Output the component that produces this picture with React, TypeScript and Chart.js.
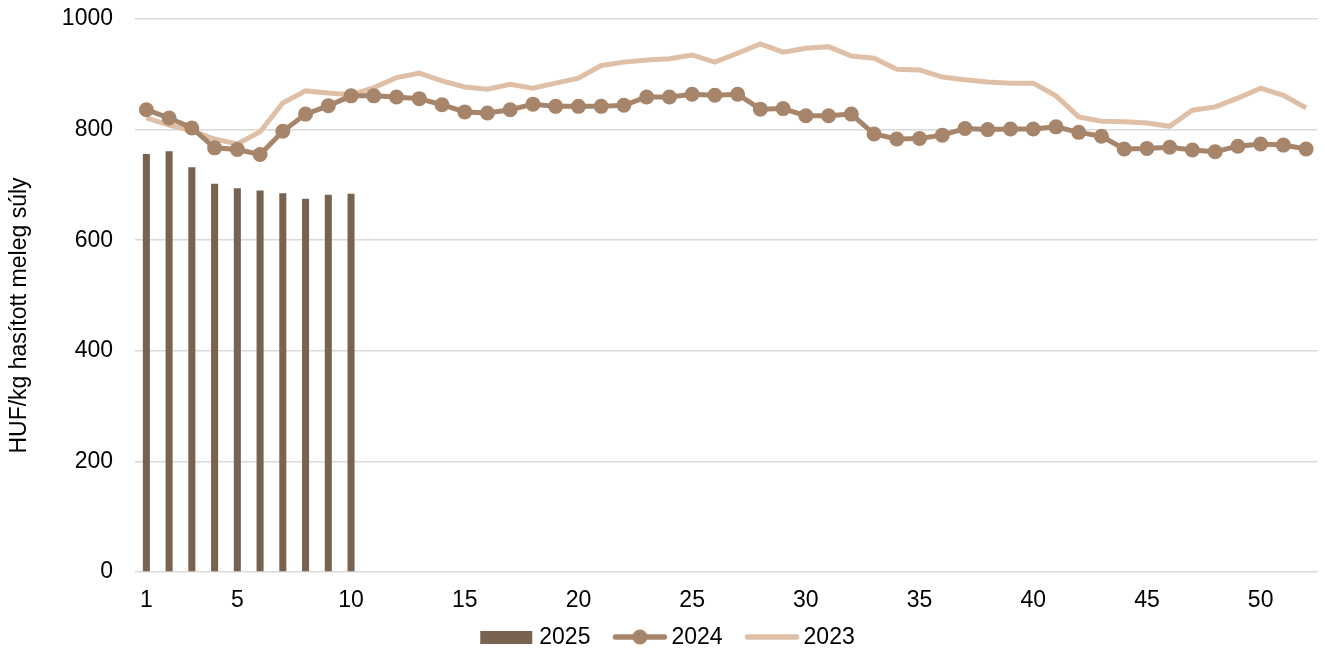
import React, { useEffect, useRef } from "react";
import { Chart, registerables } from "chart.js";

Chart.register(...registerables);

const weeks: string[] = Array.from({ length: 52 }, (_, i) => String(i + 1));

const values2025: number[] = [756, 761, 732, 702, 694, 690, 685, 675, 682, 684];

const values2024: number[] = [
  836, 821, 803, 767, 764, 755, 797, 828, 843, 861,
  861, 859, 856, 845, 832, 830, 836, 846, 842, 842,
  842, 844, 859, 859, 864, 862, 864, 837, 838, 825,
  825, 828, 792, 783, 784, 790, 802, 800, 801, 801,
  805, 795, 788, 765, 766, 768, 763, 760, 770, 774,
  772, 765,
];

const values2023: number[] = [
  821, 808, 798, 783, 774, 796, 848, 870, 866, 863,
  876, 894, 902, 888, 877, 873, 882, 875, 884, 893,
  916, 922, 926, 928, 935, 922, 938, 955, 940, 947,
  950, 933, 929, 909, 908, 895, 890, 886, 884, 884,
  861, 823, 815, 814, 812, 806, 835, 841, 857, 875,
  862, 839,
];

const yTicks: number[] = [0, 200, 400, 600, 800, 1000];
const xShownLabels: string[] = ["1", "5", "10", "15", "20", "25", "30", "35", "40", "45", "50"];
const yTitle = "HUF/kg hasított meleg súly";

const C2025 = "#776350";
const C2024 = "#A6856A";
const C2023 = "#DFC0A7";
const FONT = "'Liberation Sans', Arial, sans-serif";
const FS = 23;

const legendPlugin = {
  id: "customLegend",
  afterDraw(chart: any) {
    const ctx = chart.ctx as CanvasRenderingContext2D;
    const items = [
      { label: "2025", kind: "bar", color: C2025 },
      { label: "2024", kind: "linepoint", color: C2024 },
      { label: "2023", kind: "line", color: C2023 },
    ];
    ctx.save();
    ctx.font = `${FS}px ${FONT}`;

    // y-axis title
    ctx.fillStyle = "#000";
    ctx.textAlign = "center";
    ctx.textBaseline = "middle";
    ctx.translate(20, (chart.chartArea.top + chart.chartArea.bottom) / 2 + 20);
    ctx.rotate(-Math.PI / 2);
    ctx.fillText(yTitle, 0, 0);
    ctx.setTransform(1, 0, 0, 1, 0, 0);

    const symW = 55;
    const textGap = 4;
    const itemGap = 22;
    const widths = items.map((it) => symW + textGap + ctx.measureText(it.label).width);
    const total = widths.reduce((a, b) => a + b, 0) + itemGap * (items.length - 1);
    let x = chart.width / 2 + 5 - total / 2;
    const y = 637;
    items.forEach((it, i) => {
      if (it.kind === "bar") {
        ctx.fillStyle = it.color;
        ctx.fillRect(x, y - 6, symW - 3, 13);
      } else {
        ctx.strokeStyle = it.color;
        ctx.lineWidth = 5.5;
        ctx.lineCap = "round";
        ctx.beginPath();
        ctx.moveTo(x + 3, y);
        ctx.lineTo(x + symW - 3, y);
        ctx.stroke();
        if (it.kind === "linepoint") {
          ctx.fillStyle = it.color;
          ctx.beginPath();
          ctx.arc(x + symW / 2, y, 7.5, 0, Math.PI * 2);
          ctx.fill();
        }
      }
      ctx.fillStyle = "#000";
      ctx.textBaseline = "middle";
      ctx.textAlign = "left";
      ctx.fillText(it.label, x + symW + textGap, y + 1);
      x += widths[i] + itemGap;
    });
    ctx.restore();
  },
};

export default function App() {
  const ref = useRef<HTMLCanvasElement | null>(null);

  useEffect(() => {
    if (!ref.current) return;
    const chart = new Chart(ref.current, {
      type: "bar",
      data: {
        labels: weeks,
        datasets: [
          {
            type: "bar",
            label: "2025",
            data: values2025,
            backgroundColor: C2025,
            barPercentage: 0.31,
            categoryPercentage: 1,
            order: 3,
          },
          {
            type: "line",
            label: "2024",
            data: values2024,
            borderColor: C2024,
            backgroundColor: C2024,
            borderWidth: 5,
            pointRadius: 7.5,
            pointBorderWidth: 0,
            pointBackgroundColor: C2024,
            tension: 0,
            order: 1,
          },
          {
            type: "line",
            label: "2023",
            data: values2023,
            borderColor: C2023,
            backgroundColor: C2023,
            borderWidth: 5,
            pointRadius: 0,
            tension: 0,
            order: 2,
          },
        ] as any,
      },
      options: {
        animation: false,
        responsive: true,
        maintainAspectRatio: false,
        layout: { padding: { top: 19, right: 5, bottom: 40, left: 0 } },
        plugins: {
          legend: { display: false },
          tooltip: { enabled: false },
        },
        scales: {
          x: {
            offset: true,
            grid: { display: false, drawTicks: false },
            border: { display: false },
            ticks: {
              autoSkip: false,
              maxRotation: 0,
              padding: 15,
              color: "#000",
              font: { family: FONT, size: FS },
              callback: (_v: any, i: number) =>
                xShownLabels.includes(weeks[i]) ? weeks[i] : "",
            },
            afterFit: (s: any) => {
              s.height = 41;
              s.paddingLeft = 0;
              s.paddingRight = 0;
            },
          },
          y: {
            min: yTicks[0],
            max: yTicks[yTicks.length - 1],
            afterBuildTicks: (s: any) => {
              s.ticks = yTicks.map((v) => ({ value: v }));
            },
            grid: { color: "#D9D9D9", lineWidth: 1.5, drawTicks: false },
            border: { display: false },
            ticks: {
              padding: 22,
              color: "#000",
              font: { family: FONT, size: FS },
              callback: (v: any) => String(v),
            },
            title: { display: false },
            afterFit: (s: any) => {
              s.width = 135;
              s.paddingTop = 0;
              s.paddingBottom = 0;
            },
          },
        },
      },
      plugins: [legendPlugin],
    });
    return () => chart.destroy();
  }, []);

  return (
    <div style={{ position: "fixed", left: 0, top: 0, width: 1325, height: 653, background: "#fff" }}>
      <canvas ref={ref} />
    </div>
  );
}
